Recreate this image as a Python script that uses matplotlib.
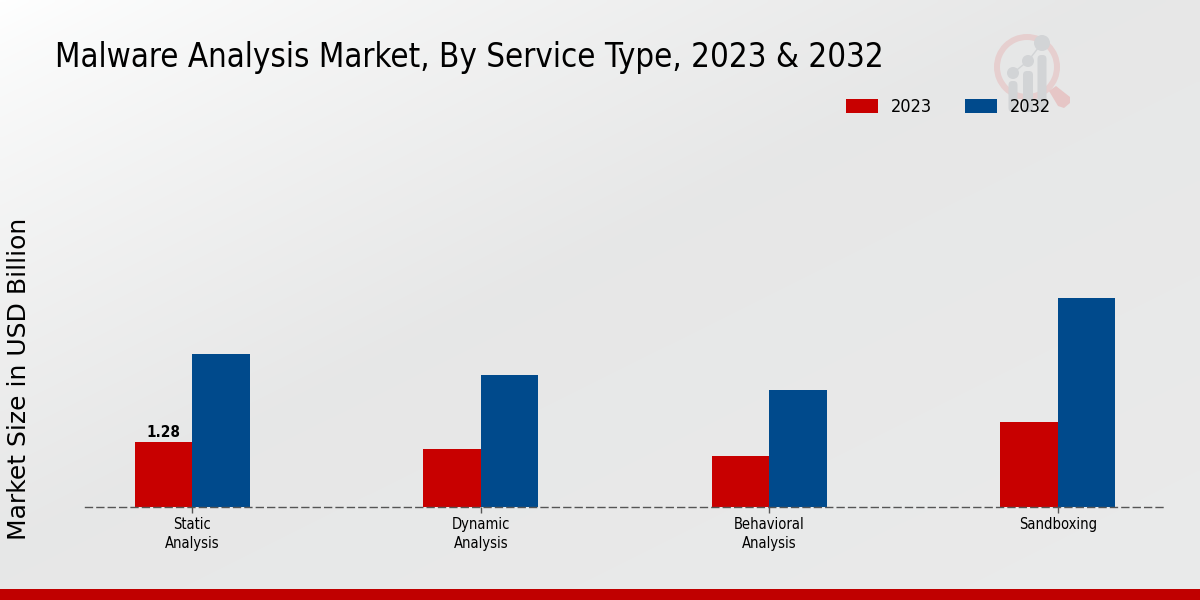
import numpy as np
import matplotlib
matplotlib.use("Agg")
import matplotlib.pyplot as plt
from matplotlib.font_manager import FontProperties
from matplotlib.patches import Circle, Wedge, FancyBboxPatch, Polygon

categories = ["Static\nAnalysis", "Dynamic\nAnalysis", "Behavioral\nAnalysis", "Sandboxing"]
values_2023 = [1.28, 1.14, 1.01, 1.67]
values_2032 = [3.01, 2.60, 2.30, 4.11]
series_names = ["2023", "2032"]
colors = ["#C80000", "#004A8C"]
title = "Malware Analysis Market, By Service Type, 2023 & 2032"
ylabel = "Market Size in USD Billion"

W, H = 1200, 600
fig = plt.figure(figsize=(W/100, H/100), dpi=100)

# background gradient
bg = fig.add_axes([0, 0, 1, 1], zorder=0)
bg.set_axis_off()
yy, xx = np.mgrid[0:1:150j, 0:1:300j]
d = np.clip((xx * W + yy * W) / 1100, 0, 1)
g = 1.0 - 0.095 * d ** 0.75
g = g + 0.012 * np.clip((xx + yy - 0.9), 0, 1)
bg.imshow(np.dstack([g, g + 0.002, g + 0.002]).clip(0, 1), extent=[0, W, H, 0], aspect="auto", interpolation="bilinear")
bg.set_xlim(0, W); bg.set_ylim(H, 0)
bg.add_patch(plt.Rectangle((0, 589), W, 11, color="#C00000", lw=0))

# watermark logo
pink = "#E6CFCF"
grey = "#D2D4D6"
bg.add_patch(Wedge((1027, 67), 33, 0, 360, width=6, color=pink, lw=0))
bg.add_patch(Polygon([[1049, 91], [1056, 86], [1070, 97], [1070, 103], [1064, 108], [1058, 106]], closed=True, color="#E6C6C6", lw=0))
for cx, top, cy, r, bw in [(1013, 81, 73, 6, 9), (1028, 71, 61, 6, 10), (1042, 55, 43, 8, 9)]:
    bg.add_patch(Circle((cx, cy), r, color=grey, lw=0))
    bg.add_patch(FancyBboxPatch((cx-bw/2, top), bw, 112-top, boxstyle="round,pad=0,rounding_size=4", color=grey, lw=0))
bg.plot([1013, 1028, 1042], [73, 61, 43], color=grey, lw=1)

# main axes
left, right, top, bottom = 85, 1165, 130, 507
ax = fig.add_axes([left/W, 1-bottom/H, (right-left)/W, (bottom-top)/H], zorder=2)
ax.patch.set_alpha(0)
x = np.arange(len(categories))
w = 0.2
b1 = ax.bar(x - w/2, values_2023, w, color=colors[0], label=series_names[0])
b2 = ax.bar(x + w/2, values_2032, w, color=colors[1], label=series_names[1])
ax.set_xlim(-0.372, 3.372)
ax.set_ylim(0, 377/50.8)
ax.set_yticks([])
for s in ["top", "right", "left"]:
    ax.spines[s].set_visible(False)
ax.spines["bottom"].set_linestyle((0, (5, 3.2)))
ax.spines["bottom"].set_color("#555555")
ax.spines["bottom"].set_linewidth(1.0)
ax.spines["bottom"].set_zorder(5)
cond = dict(family="DejaVu Sans", stretch="condensed")
ax.set_xticks(x)
ax.set_xticklabels(categories, fontsize=10.5, linespacing=1.35, **cond)
ax.tick_params(axis="x", length=4, width=1, color="#555555", pad=3)
ax.text(x[0] - w/2, values_2023[0] + 0.03, "1.28", ha="center", va="bottom", fontsize=11, fontweight="bold", **cond)

fig.text(55/W, 1-58/H, title, fontsize=23.7, va="center", ha="left", **cond)
fig.text(19/W, 1-379/H, ylabel, fontsize=18, rotation=90, va="center", ha="center", family="DejaVu Sans", zorder=3)

# legend
ax.legend(handles=[b1, b2], labels=series_names, loc="upper left",
          bbox_to_anchor=(830/W, 1-82/H), bbox_transform=fig.transFigure,
          ncol=2, frameon=False, handlelength=1.77, handleheight=0.75,
          columnspacing=1.79, handletextpad=0.72,
          prop=FontProperties(family="DejaVu Sans", stretch="condensed", size=13))

fig.savefig("out.png", dpi=100)
